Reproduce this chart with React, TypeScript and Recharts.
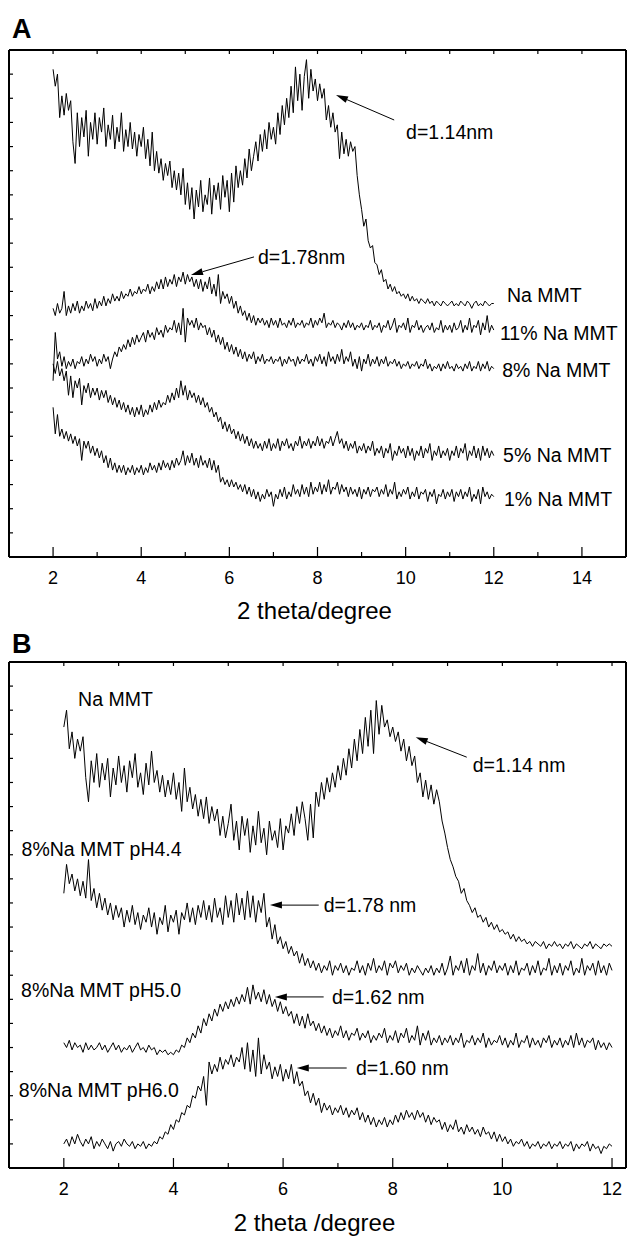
import { LineChart, Line, XAxis, YAxis, ReferenceDot, ReferenceLine } from "recharts";

// 2 theta, degrees (shared by every pattern)
const angles = [
  2, 2.05, 2.1, 2.15, 2.2, 2.25, 2.3, 2.35, 2.4, 2.45, 2.5, 2.55, 2.6, 2.65, 2.7, 2.75, 2.8, 2.85, 2.9, 2.95,
  3, 3.05, 3.1, 3.15, 3.2, 3.25, 3.3, 3.35, 3.4, 3.45, 3.5, 3.55, 3.6, 3.65, 3.7, 3.75, 3.8, 3.85, 3.9, 3.95,
  4, 4.05, 4.1, 4.15, 4.2, 4.25, 4.3, 4.35, 4.4, 4.45, 4.5, 4.55, 4.6, 4.65, 4.7, 4.75, 4.8, 4.85, 4.9, 4.95,
  5, 5.05, 5.1, 5.15, 5.2, 5.25, 5.3, 5.35, 5.4, 5.45, 5.5, 5.55, 5.6, 5.65, 5.7, 5.75, 5.8, 5.85, 5.9, 5.95,
  6, 6.05, 6.1, 6.15, 6.2, 6.25, 6.3, 6.35, 6.4, 6.45, 6.5, 6.55, 6.6, 6.65, 6.7, 6.75, 6.8, 6.85, 6.9, 6.95,
  7, 7.05, 7.1, 7.15, 7.2, 7.25, 7.3, 7.35, 7.4, 7.45, 7.5, 7.55, 7.6, 7.65, 7.7, 7.75, 7.8, 7.85, 7.9, 7.95,
  8, 8.05, 8.1, 8.15, 8.2, 8.25, 8.3, 8.35, 8.4, 8.45, 8.5, 8.55, 8.6, 8.65, 8.7, 8.75, 8.8, 8.85, 8.9, 8.95,
  9, 9.05, 9.1, 9.15, 9.2, 9.25, 9.3, 9.35, 9.4, 9.45, 9.5, 9.55, 9.6, 9.65, 9.7, 9.75, 9.8, 9.85, 9.9, 9.95,
  10, 10.05, 10.1, 10.15, 10.2, 10.25, 10.3, 10.35, 10.4, 10.45, 10.5, 10.55, 10.6, 10.65, 10.7, 10.75, 10.8, 10.85, 10.9, 10.95,
  11, 11.05, 11.1, 11.15, 11.2, 11.25, 11.3, 11.35, 11.4, 11.45, 11.5, 11.55, 11.6, 11.65, 11.7, 11.75, 11.8, 11.85, 11.9, 11.95,
  12,
];

// Panel A — intensity (offset, arbitrary units)
const naMmtA = [
  20.2, 19.5, 20.0, 18.2, 19.1, 18.3, 19.2, 18.5, 18.9, 17.2, 16.3, 18.4, 17.0, 18.2, 17.4, 18.5, 16.6, 18.0, 17.3, 18.4,
  17.1, 18.2, 17.6, 18.6, 17.0, 17.9, 17.3, 18.3, 16.9, 17.8, 17.2, 18.4, 16.8, 17.7, 17.0, 18.0, 16.9, 17.6, 16.6, 17.5,
  17.0, 17.8, 16.5, 17.3, 16.2, 17.6, 16.0, 16.8, 15.9, 16.5, 15.6, 16.3, 15.8, 16.4, 15.3, 16.0, 15.2, 15.9, 15.0, 16.1,
  14.6, 15.5, 14.4, 15.3, 14.0, 15.2, 14.5, 15.6, 14.3, 15.0, 14.6, 15.7, 14.2, 15.4, 14.8, 15.5, 14.4, 15.8, 14.9, 15.6,
  14.3, 15.9, 14.7, 16.2, 15.3, 16.0, 15.4, 16.5, 15.7, 16.9, 16.0, 16.6, 17.2, 16.4, 17.5, 16.8, 17.7, 16.9, 18.0, 17.3,
  17.8, 17.1, 18.4, 17.5, 18.7, 17.9, 19.0, 18.2, 19.5, 18.4, 20.3, 18.9, 20.0, 18.5, 19.9, 20.6, 19.0, 20.2, 19.3, 19.8,
  18.9, 19.6, 19.0, 19.4, 18.1, 18.7, 17.8, 18.4, 17.6, 17.9, 16.5, 17.6, 16.7, 17.3, 16.6, 17.2, 16.8, 17.0, 15.8, 15.0,
  14.4, 13.7, 14.0, 13.1, 12.8, 12.9, 12.2, 12.1, 11.7, 11.9, 11.4, 11.5, 11.1, 11.3, 11.0, 11.2, 10.9, 11.0, 10.8, 10.9,
  10.7, 10.9, 10.6, 10.8, 10.6, 10.7, 10.5, 10.7, 10.6, 10.5, 10.7, 10.5, 10.6, 10.4, 10.6, 10.5, 10.4, 10.6, 10.5, 10.4,
  10.5, 10.6, 10.4, 10.5, 10.4, 10.6, 10.5, 10.4, 10.6, 10.5, 10.3, 10.5, 10.6, 10.4, 10.5, 10.4, 10.6, 10.5, 10.4, 10.5,
  10.5,
];
const pct11A = [
  10.3, 10.0, 10.5, 10.1, 10.3, 11.0, 10.0, 10.4, 10.1, 10.5, 10.2, 10.6, 10.1, 10.4, 10.2, 10.6, 10.3, 10.5, 10.2, 10.7,
  10.3, 10.6, 10.4, 10.8, 10.4, 10.7, 10.5, 10.9, 10.6, 10.8, 10.6, 11.0, 10.7, 10.9, 10.8, 11.1, 10.8, 11.0, 10.9, 11.2,
  10.9, 11.1, 11.0, 11.3, 10.9, 11.2, 11.0, 11.4, 11.1, 11.5, 11.1, 11.6, 11.2, 11.5, 11.3, 11.7, 11.2, 11.6, 11.4, 11.8,
  11.3, 11.7, 11.4, 11.6, 11.2, 11.5, 11.1, 11.5, 11.0, 11.4, 11.1, 11.6, 10.9, 11.3, 10.8, 11.7, 10.5, 11.0, 10.7, 10.9,
  10.5, 10.8, 10.3, 10.6, 10.1, 10.4, 10.0, 10.2, 9.8, 10.1, 9.7, 10.0, 9.6, 9.9, 9.7, 9.9, 9.6, 9.8, 9.5, 9.9,
  9.6, 9.8, 9.5, 9.9, 9.6, 9.7, 9.5, 9.8, 9.6, 9.9, 9.5, 9.7, 9.6, 9.8, 9.5, 9.7, 9.6, 9.9, 9.5, 9.8,
  9.6, 9.9, 9.7, 10.1, 9.5, 9.7, 9.6, 9.8, 9.5, 9.7, 9.6, 9.4, 9.7, 9.5, 9.8, 9.5, 9.7, 9.4, 9.6, 9.5,
  9.7, 9.4, 9.6, 9.5, 9.8, 9.4, 9.6, 9.5, 9.7, 9.3, 9.6, 9.5, 9.8, 9.4, 9.6, 9.9, 9.3, 9.6, 9.5, 9.7,
  9.4, 9.9, 9.3, 9.6, 9.5, 9.8, 9.4, 9.6, 9.3, 9.5, 9.6, 9.4, 9.7, 9.3, 9.5, 9.4, 9.8, 9.3, 9.6, 9.4,
  9.6, 9.3, 9.7, 9.4, 9.5, 9.8, 9.3, 9.6, 9.4, 9.9, 9.3, 9.6, 9.5, 9.8, 9.2, 9.7, 9.4, 10.0, 9.3, 9.6,
  9.4,
];
const pct8A = [
  7.3, 9.3, 8.2, 8.5, 7.9, 8.3, 7.8, 8.1, 7.9, 8.2, 7.8, 8.1, 8.0, 8.3, 7.9, 8.2, 8.0, 8.4, 8.1, 8.3,
  7.9, 8.2, 8.0, 8.4, 8.1, 8.3, 7.8, 8.2, 8.5, 8.3, 8.7, 8.5, 8.8, 8.6, 9.0, 8.7, 9.1, 8.8, 9.2, 8.9,
  9.1, 9.3, 8.9, 9.4, 9.1, 9.3, 9.0, 9.5, 9.2, 9.4, 9.1, 9.6, 9.3, 9.5, 9.4, 9.8, 9.3, 9.7, 9.2, 10.3,
  8.9, 9.9, 9.6, 9.8, 9.5, 9.9, 9.4, 9.7, 9.5, 9.6, 9.2, 9.5, 9.1, 9.4, 8.9, 9.2, 8.8, 9.1, 8.6, 8.9,
  8.5, 8.8, 8.4, 8.7, 8.3, 8.6, 8.2, 8.5, 8.1, 8.4, 8.2, 8.5, 8.0, 8.3, 8.1, 8.4, 8.0, 8.2, 8.1, 8.3,
  8.0, 8.2, 8.1, 8.3, 7.9, 8.2, 8.0, 8.3, 8.1, 8.2, 7.9, 8.3, 8.0, 8.2, 8.1, 8.4, 8.0, 8.2, 7.9, 8.3,
  8.1, 8.4, 8.0, 8.3, 7.9, 8.5, 8.1, 8.3, 8.0, 8.4, 8.1, 8.6, 8.0, 8.3, 8.1, 8.5, 7.9, 8.2, 7.8, 8.3,
  7.7, 8.2, 8.0, 8.4, 7.9, 8.2, 8.0, 8.3, 7.9, 8.2, 8.0, 8.3, 7.9, 8.1, 8.0, 8.2, 7.9, 8.1, 7.8, 8.0,
  7.9, 8.1, 7.8, 8.0, 7.9, 8.1, 7.8, 8.0, 7.9, 8.2, 7.8, 8.0, 7.7, 7.9, 7.8, 8.0, 7.7, 8.0, 7.8, 8.1,
  7.8, 7.9, 7.7, 8.0, 7.8, 7.9, 7.7, 8.0, 7.8, 8.1, 7.7, 7.9, 7.8, 8.1, 7.7, 8.0, 7.8, 8.1, 7.7, 7.9,
  7.8,
];
const pct5A = [
  8.0, 7.6, 8.1, 7.5, 7.8, 7.3, 7.7, 6.7, 7.5, 6.6, 7.3, 7.0, 7.4, 6.3, 7.1, 6.8, 7.2, 6.6, 7.0, 6.7,
  7.0, 6.5, 6.9, 6.6, 6.9, 6.4, 6.7, 6.3, 6.6, 6.2, 6.5, 6.1, 6.4, 6.0, 6.3, 5.9, 6.2, 5.8, 6.2, 5.9,
  6.3, 5.8, 6.1, 5.9, 6.3, 6.0, 6.4, 6.1, 6.5, 6.2, 6.4, 6.3, 6.7, 6.4, 6.8, 6.5, 7.0, 6.6, 7.3, 6.7,
  7.1, 6.5, 6.9, 6.6, 6.8, 6.4, 6.7, 6.3, 6.6, 6.2, 6.4, 6.0, 6.2, 5.8, 6.0, 5.6, 5.8, 5.3, 5.6, 5.2,
  5.5, 5.1, 5.3, 4.9, 5.2, 4.8, 5.1, 4.7, 5.0, 4.6, 4.9, 4.5, 4.8, 4.5, 4.7, 4.4, 4.8, 4.5, 4.9, 4.4,
  4.7, 4.5, 4.9, 4.4, 4.8, 4.6, 4.9, 4.5, 4.7, 4.4, 4.8, 4.6, 5.0, 4.5, 4.8, 4.6, 4.9, 4.5, 4.8, 4.6,
  5.0, 4.6, 4.9, 4.5, 4.8, 4.7, 5.0, 4.6, 4.9, 5.2, 4.7, 4.9, 4.5, 4.8, 4.4, 4.7, 4.5, 4.8, 4.3, 4.6,
  4.4, 4.7, 4.3, 4.6, 4.4, 4.8, 4.2, 4.5, 4.3, 4.6, 4.1, 4.5, 4.3, 4.7, 4.0, 4.4, 4.2, 4.6, 4.3, 4.5,
  4.1, 4.6, 4.2, 4.5, 4.0, 4.4, 4.2, 4.6, 4.1, 4.5, 4.3, 4.7, 4.0, 4.4, 4.2, 4.6, 4.1, 4.4, 4.2, 4.5,
  4.0, 4.4, 4.2, 4.6, 4.1, 4.5, 4.3, 4.7, 4.0, 4.4, 4.2, 4.6, 4.1, 4.5, 4.0, 4.6, 4.2, 4.5, 4.1, 4.4,
  4.2,
];
const pct1A = [
  6.2, 5.1, 5.9, 5.0, 5.3, 4.9, 5.2, 4.8, 5.1, 4.7, 5.0, 4.6, 4.9, 4.0, 4.8, 4.5, 4.8, 4.3, 4.6, 4.2,
  4.5, 4.1, 4.4, 3.9, 4.2, 3.7, 4.1, 3.6, 3.9, 3.5, 3.8, 3.5, 3.8, 3.4, 3.7, 3.5, 3.8, 3.4, 3.7, 3.5,
  3.8, 3.4, 3.7, 3.5, 3.9, 3.6, 3.8, 3.5, 3.9, 3.6, 4.0, 3.7, 3.9, 3.6, 4.0, 3.7, 4.1, 3.8, 4.0, 4.4,
  3.8, 4.2, 3.9, 4.3, 3.8, 4.1, 3.7, 4.2, 3.8, 4.0, 3.7, 4.1, 3.6, 4.0, 3.5, 3.8, 3.1, 3.3, 3.0, 3.2,
  2.9, 3.2, 2.9, 3.1, 2.8, 3.0, 2.7, 3.0, 2.6, 2.9, 2.5, 2.8, 2.4, 2.7, 2.3, 2.6, 2.4, 2.8, 2.5, 2.7,
  2.1, 2.6, 2.4, 2.8, 2.5, 2.9, 2.4, 2.7, 2.5, 3.0, 2.6, 2.8, 2.5, 3.0, 2.6, 2.9, 2.5, 3.1, 2.6, 2.9,
  2.7, 3.1, 2.6, 3.0, 2.7, 3.2, 2.6, 2.9, 2.8, 3.1, 2.6, 3.0, 2.7, 2.9, 2.5, 2.9, 2.6, 2.8, 2.5, 2.9,
  2.4, 2.8, 2.6, 2.9, 2.5, 2.8, 2.7, 2.9, 2.5, 2.8, 2.6, 3.0, 2.5, 2.8, 2.6, 3.1, 2.4, 2.7, 2.5, 2.8,
  2.6, 2.9, 2.4, 2.7, 2.5, 2.9, 2.4, 2.7, 2.6, 2.8, 2.3, 2.7, 2.5, 2.8, 2.2, 2.6, 2.5, 2.8, 2.4, 2.7,
  2.5, 2.8, 2.3, 2.7, 2.5, 2.8, 2.4, 2.7, 2.5, 2.9, 2.3, 2.6, 2.4, 2.8, 2.2, 2.9, 2.5, 2.7, 2.4, 2.6,
  2.5,
];

// Panel B — intensity (offset, arbitrary units)
const naMmtB = [
  18.3, 19.0, 17.4, 18.1, 17.0, 17.8, 17.3, 17.9, 16.2, 15.2, 16.9, 16.0, 17.2, 15.8, 16.8, 16.1, 17.0, 15.4, 16.6, 15.9,
  17.1, 16.0, 16.7, 15.6, 16.9, 16.2, 17.2, 15.8, 16.4, 15.5, 16.8, 15.9, 17.3, 16.0, 16.5, 15.6, 16.3, 15.4, 16.1, 15.5,
  16.4, 15.3, 16.0, 14.8, 16.6, 15.2, 15.8, 14.9, 15.5, 14.6, 15.3, 14.5, 15.4, 14.3, 15.0, 14.4, 14.9, 13.8, 14.6, 13.7,
  14.3, 15.1, 13.6, 14.4, 13.2, 14.6, 13.8, 14.5, 13.1, 14.2, 13.4, 14.8, 13.5, 14.1, 13.0, 14.4, 13.6, 14.0, 13.3, 14.5,
  13.2, 14.2, 13.9, 14.7, 13.8, 15.0, 14.3, 15.2, 14.5, 13.6, 15.1, 13.7, 15.6, 15.0, 16.0, 15.3, 16.2, 15.6, 16.4, 15.8,
  16.7, 16.1, 17.0, 16.3, 17.4, 16.6, 17.8, 16.9, 18.2, 17.2, 18.7, 17.5, 19.0, 17.2, 19.4, 18.0, 19.2, 18.3, 18.6, 17.9,
  18.3, 17.7, 18.1, 17.3, 17.8, 16.9, 17.5, 16.7, 17.1, 16.0, 16.4, 15.4, 16.1, 15.3, 15.9, 15.1, 15.7, 15.2, 14.4, 13.9,
  13.3, 12.8, 12.5, 12.1, 11.9, 11.4, 11.6, 11.1, 10.9, 10.6, 10.8, 10.4, 10.5, 10.2, 10.4, 10.0, 10.2, 9.9, 10.1, 9.8,
  9.9, 9.7, 9.8, 9.5, 9.7, 9.4, 9.6, 9.4, 9.5, 9.3, 9.4, 9.2, 9.4, 9.3, 9.2, 9.4, 9.1, 9.3, 9.2, 9.4,
  9.2, 9.3, 9.1, 9.3, 9.2, 9.4, 9.1, 9.3, 9.2, 9.1, 9.3, 9.2, 9.4, 9.1, 9.3, 9.2, 9.1, 9.3, 9.2, 9.3,
  9.2,
];
const ph44B = [
  11.4, 12.6, 11.8, 12.2, 11.5, 12.0, 11.3, 11.9, 11.2, 12.8, 11.1, 11.6, 10.8, 11.4, 10.7, 11.2, 10.5, 11.0, 10.3, 10.9,
  10.4, 10.8, 10.0, 10.7, 10.2, 10.9, 10.1, 10.6, 9.9, 10.5, 10.2, 10.8, 10.0, 10.6, 9.7, 10.4, 10.1, 10.9, 9.8, 10.5,
  10.2, 10.7, 9.7, 10.6, 10.3, 11.0, 10.2, 10.8, 10.1, 10.9, 10.4, 11.1, 10.3, 10.9, 10.2, 11.2, 10.4, 10.8, 10.1, 11.3,
  10.4, 11.1, 10.2, 11.4, 10.5, 11.2, 10.3, 11.5, 10.4, 11.3, 10.2, 11.1, 10.6, 11.4, 10.0, 10.4, 9.5, 10.1, 9.3, 9.6,
  9.1, 9.4, 8.9, 9.2, 8.8, 9.0, 8.5, 8.9, 8.4, 8.7, 8.3, 8.6, 8.2, 8.5, 8.1, 8.4, 8.2, 8.6, 8.0, 8.4,
  8.2, 8.5, 8.1, 8.4, 8.0, 8.3, 8.2, 8.6, 8.1, 8.4, 8.0, 8.5, 8.2, 8.7, 8.1, 8.4, 8.2, 8.6, 8.0, 8.5,
  8.3, 8.6, 8.1, 8.4, 8.2, 8.5, 8.0, 8.3, 8.1, 8.4, 8.2, 8.0, 8.3, 8.1, 8.4, 8.0, 8.3, 8.1, 8.5, 8.0,
  8.3, 8.8, 8.0, 8.4, 8.2, 8.6, 8.1, 8.7, 8.0, 8.4, 8.2, 8.9, 8.1, 8.5, 8.0, 8.4, 8.2, 8.6, 8.1, 8.4,
  8.2, 8.5, 8.0, 8.4, 8.1, 8.6, 8.0, 8.3, 8.2, 8.5, 8.0, 8.4, 8.1, 8.6, 8.0, 8.3, 8.2, 8.7, 8.0, 8.4,
  8.1, 8.5, 8.0, 8.4, 8.2, 8.6, 8.0, 8.3, 8.1, 8.7, 8.0, 8.4, 8.2, 8.5, 8.0, 8.6, 8.1, 8.4, 8.0, 8.5,
  8.2,
];
const ph50B = [
  5.2, 5.0, 5.3, 4.9, 5.2, 5.0, 5.1, 4.8, 5.2, 4.9, 5.1, 4.9, 5.0, 5.2, 4.9, 5.1, 4.8, 5.0, 5.2, 4.9,
  5.1, 4.8, 5.0, 4.9, 5.1, 4.8, 5.0, 5.2, 4.9, 5.0, 4.8, 5.1, 4.9, 5.0, 4.7, 4.9, 4.8, 4.9, 4.7, 4.8,
  4.7, 4.9, 4.8, 5.1, 5.0, 5.4, 5.2, 5.6, 5.4, 5.9, 5.6, 6.2, 5.9, 6.4, 6.1, 6.6, 6.3, 6.8, 6.5, 6.9,
  6.6, 7.0, 6.7, 7.1, 6.8, 7.2, 6.9, 7.5, 6.8, 7.6, 7.0, 7.3, 6.9, 7.4, 6.8, 7.2, 6.7, 7.0, 6.5, 6.9,
  6.4, 6.7, 6.3, 6.5, 6.0, 6.4, 5.9, 6.3, 5.8, 6.4, 5.9, 6.1, 5.7, 6.0, 5.6, 5.9, 5.5, 5.8, 5.4, 5.7,
  5.5, 5.9, 5.4, 5.7, 5.3, 5.6, 5.5, 5.8, 5.3, 5.6, 5.4, 5.7, 5.2, 5.5, 5.3, 5.6, 5.4, 5.8, 5.2, 5.5,
  5.3, 5.7, 5.2, 5.6, 5.4, 5.8, 5.2, 5.5, 5.3, 5.9, 5.1, 5.6, 5.3, 5.7, 5.1, 5.4, 5.2, 5.5, 5.1, 5.4,
  5.2, 5.5, 5.1, 5.4, 5.2, 5.6, 5.0, 5.3, 5.2, 5.5, 5.1, 5.4, 5.2, 5.6, 5.0, 5.4, 5.1, 5.3, 5.2, 5.5,
  5.1, 5.4, 5.0, 5.3, 5.1, 5.6, 5.0, 5.3, 5.2, 5.5, 5.0, 5.4, 5.1, 5.3, 5.0, 5.4, 5.2, 5.5, 5.0, 5.3,
  5.1, 5.4, 5.0, 5.3, 5.1, 5.5, 5.0, 5.6, 5.1, 5.4, 5.0, 5.3, 5.2, 5.4, 4.9, 5.3, 5.0, 5.2, 4.9, 5.2,
  5.0,
];
const ph60B = [
  1.0, 1.2, 0.9, 1.3, 1.0, 1.4, 1.1, 0.9, 1.2, 1.0, 1.3, 0.8, 1.1, 0.9, 1.2, 1.0, 0.8, 1.1, 0.7, 1.0,
  1.1, 0.9, 1.2, 1.0, 0.9, 1.1, 0.8, 1.0, 0.9, 1.1, 0.8, 1.0, 0.9, 1.1, 1.0, 1.3, 1.2, 1.5, 1.4, 1.8,
  1.6, 2.0, 1.9, 2.3, 2.2, 2.6, 2.5, 3.0, 2.9, 3.4, 3.2, 3.8, 2.6, 4.4, 3.9, 4.3, 4.0, 4.6, 4.1, 4.5,
  4.3, 4.7, 4.2, 4.6, 4.4, 5.0, 4.1, 5.2, 4.0, 4.9, 3.8, 5.4, 3.9, 4.7, 4.1, 4.4, 3.7, 4.2, 3.8, 4.3,
  3.6, 4.1, 3.7, 4.3, 3.5, 4.0, 3.4, 3.6, 3.0, 3.2, 2.7, 3.1, 2.6, 2.9, 2.3, 2.7, 2.4, 2.6, 2.2, 2.5,
  2.3, 2.6, 2.2, 2.5, 2.1, 2.4, 2.2, 2.5, 2.0, 2.3, 1.9, 2.2, 1.8, 2.1, 1.7, 2.0, 1.8, 2.1, 1.7, 2.0,
  1.8, 2.2, 1.9, 2.3, 2.0, 2.4, 2.1, 2.3, 2.0, 2.4, 2.1, 2.3, 1.9, 2.2, 1.8, 2.1, 1.9, 2.0, 1.6, 1.9,
  1.5, 1.8, 1.6, 2.0, 1.5, 1.7, 1.4, 1.8, 1.5, 1.7, 1.4, 1.6, 1.3, 1.7, 1.4, 1.5, 1.2, 1.5, 1.1, 1.4,
  1.1, 1.3, 1.0, 1.2, 0.9, 1.1, 1.0, 1.2, 0.9, 1.1, 0.8, 1.0, 0.9, 1.1, 0.8, 1.0, 0.9, 1.1, 0.8, 1.0,
  0.9, 1.1, 0.8, 1.0, 0.9, 1.1, 0.7, 1.0, 0.8, 1.0, 0.9, 1.1, 0.7, 1.0, 0.8, 0.9, 0.6, 0.9, 0.8, 1.0,
  0.9,
];

const ticksA = [2, 3, 4, 5, 6, 7, 8, 9, 10, 11, 12, 13, 14];
const ticksB = [2, 3, 4, 5, 6, 7, 8, 9, 10, 11, 12];
const ticksY = [1, 2, 3, 4, 5, 6, 7, 8, 9, 10, 11, 12, 13, 14, 15, 16, 17, 18, 19, 20];

const rows = angles.map((a, i) => ({
  a,
  naA: naMmtA[i],
  p11: pct11A[i],
  p8: pct8A[i],
  p5: pct5A[i],
  p1: pct1A[i],
  naB: naMmtB[i],
  h44: ph44B[i],
  h50: ph50B[i],
  h60: ph60B[i],
}));

const FONT = "'Liberation Sans', Arial, Helvetica, sans-serif";

// annotations (data coordinates)
const labelsA = [
  { text: "d=1.14nm", x: 10.01, y: 17.6 },
  { text: "d=1.78nm", x: 6.65, y: 12.43 },
  { text: "Na MMT", x: 12.3, y: 10.85 },
  { text: "11% Na MMT", x: 12.14, y: 9.28 },
  { text: "8% Na MMT", x: 12.19, y: 7.75 },
  { text: "5% Na MMT", x: 12.21, y: 4.23 },
  { text: "1% Na MMT", x: 12.23, y: 2.4 },
];
const arrowsA = [
  { x1: 9.74, y1: 18.1, x2: 8.42, y2: 19.14 },
  { x1: 6.56, y1: 12.43, x2: 5.13, y2: 11.68 },
];
const labelsB = [
  { text: "Na MMT", x: 2.26, y: 19.46 },
  { text: "d=1.14 nm", x: 9.46, y: 16.72 },
  { text: "8%Na MMT pH4.4", x: 1.23, y: 13.24 },
  { text: "d=1.78 nm", x: 6.74, y: 10.91 },
  { text: "8%Na MMT pH5.0", x: 1.22, y: 7.39 },
  { text: "d=1.62 nm", x: 6.89, y: 7.1 },
  { text: "d=1.60 nm", x: 7.33, y: 4.15 },
  { text: "8%Na MMT pH6.0", x: 1.18, y: 3.24 },
];
const arrowsB = [
  { x1: 9.35, y1: 17.05, x2: 8.42, y2: 17.88 },
  { x1: 6.65, y1: 10.91, x2: 5.76, y2: 10.91 },
  { x1: 6.74, y1: 7.1, x2: 5.85, y2: 7.1 },
  { x1: 7.16, y1: 4.15, x2: 6.25, y2: 4.15 },
];

const AXIS = { stroke: "#000", strokeWidth: 2 };

function BottomTick(props: any) {
  const { x, y, payload } = props;
  const v = payload.value;
  const major = v % 2 === 0;
  return (
    <g>
      <line x1={x} y1={y} x2={x} y2={y - (major ? 10 : 5)} stroke="#000" strokeWidth={1.2} />
      {major && (
        <text x={x} y={y + 26.5} textAnchor="middle" fontSize={18} fontFamily={FONT} fill="#000">
          {v}
        </text>
      )}
    </g>
  );
}

function TopTick(props: any) {
  const { x, y } = props;
  return <line x1={x} y1={y} x2={x} y2={y + 4} stroke="#000" strokeWidth={1.2} />;
}

function LeftTick(props: any) {
  const { x, y } = props;
  return <line x1={x} y1={y} x2={x + 4} y2={y} stroke="#000" strokeWidth={1.2} />;
}

function arrowShape(p: any) {
  const { x1, y1, x2, y2 } = p;
  const ang = Math.atan2(y2 - y1, x2 - x1);
  const L = 12;
  const W = 3.5;
  const bx = x2 - L * Math.cos(ang);
  const by = y2 - L * Math.sin(ang);
  const px = -Math.sin(ang) * W;
  const py = Math.cos(ang) * W;
  return (
    <g>
      <line x1={x1} y1={y1} x2={bx} y2={by} stroke="#000" strokeWidth={1} />
      <polygon points={`${x2},${y2} ${bx + px},${by + py} ${bx - px},${by - py}`} fill="#000" />
    </g>
  );
}

const textShape = (text: string) => (p: any) => (
  <text x={p.cx} y={p.cy} dominantBaseline="central" fontSize={19.5} fontFamily={FONT} fill="#000">
    {text}
  </text>
);

function Panel({
  height,
  marginTop,
  marginBottom,
  xMax,
  xTicks,
  series,
  labels,
  arrows,
  letter,
  letterY,
  title,
  titleOffset,
}: any) {
  return (
    <LineChart
      width={627}
      height={height}
      data={rows}
      margin={{ top: marginTop, right: 0, bottom: marginBottom, left: 0 }}
    >
      <XAxis
        xAxisId="t"
        orientation="top"
        type="number"
        dataKey="a"
        domain={[1, xMax]}
        ticks={xTicks}
        interval={0}
        height={10}
        tickSize={0}
        tickMargin={0}
        tickLine={false}
        axisLine={AXIS}
        tick={TopTick}
        label={{
          content: () => (
            <text x={12} y={letterY} fontSize={27} fontWeight="bold" fontFamily={FONT} fill="#000">
              {letter}
            </text>
          ),
        }}
      />
      <XAxis
        type="number"
        dataKey="a"
        domain={[1, xMax]}
        ticks={xTicks}
        interval={0}
        height={40}
        tickSize={0}
        tickMargin={0}
        tickLine={false}
        axisLine={AXIS}
        tick={BottomTick}
        allowDataOverflow
        label={{
          content: (p: any) => (
            <text
              x={p.viewBox.x + p.viewBox.width / 2 - 3}
              y={p.viewBox.y + titleOffset}
              textAnchor="middle"
              fontSize={24}
              fontFamily={FONT}
              fill="#000"
            >
              {title}
            </text>
          ),
        }}
      />
      <YAxis
        type="number"
        domain={[0, 21]}
        ticks={ticksY}
        interval={0}
        width={9}
        tickSize={0}
        tickMargin={0}
        tickLine={false}
        axisLine={AXIS}
        tick={LeftTick}
        allowDataOverflow
      />
      <YAxis
        yAxisId="r"
        orientation="right"
        type="number"
        domain={[0, 21]}
        width={1}
        tick={false}
        tickLine={false}
        axisLine={AXIS}
      />
      {series.map((k: string) => (
        <Line
          key={k}
          type="linear"
          dataKey={k}
          stroke="#000"
          strokeWidth={1}
          dot={false}
          isAnimationActive={false}
        />
      ))}
      {arrows.map((a: any, i: number) => (
        <ReferenceLine
          key={"ar" + i}
          segment={[
            { x: a.x1, y: a.y1 },
            { x: a.x2, y: a.y2 },
          ]}
          shape={arrowShape}
        />
      ))}
      {labels.map((l: any) => (
        <ReferenceDot key={l.text} x={l.x} y={l.y} r={1} shape={textShape(l.text)} />
      ))}
    </LineChart>
  );
}

export default function App() {
  return (
    <div style={{ position: "absolute", left: 0, top: 0, width: 627, height: 1237, background: "#fff" }}>
      <div style={{ position: "absolute", left: 0, top: 0 }}>
        <Panel
          height={630}
          marginTop={40}
          marginBottom={33}
          xMax={15}
          xTicks={ticksA}
          series={["naA", "p11", "p8", "p5", "p1"]}
          labels={labelsA}
          arrows={arrowsA}
          letter="A"
          letterY={38}
          title="2 theta/degree"
          titleOffset={62}
        />
      </div>
      <div style={{ position: "absolute", left: 0, top: 630 }}>
        <Panel
          height={607}
          marginTop={22}
          marginBottom={29}
          xMax={12.255}
          xTicks={ticksB}
          series={["naB", "h44", "h50", "h60"]}
          labels={labelsB}
          arrows={arrowsB}
          letter="B"
          letterY={23}
          title="2 theta /degree"
          titleOffset={63}
        />
      </div>
    </div>
  );
}
